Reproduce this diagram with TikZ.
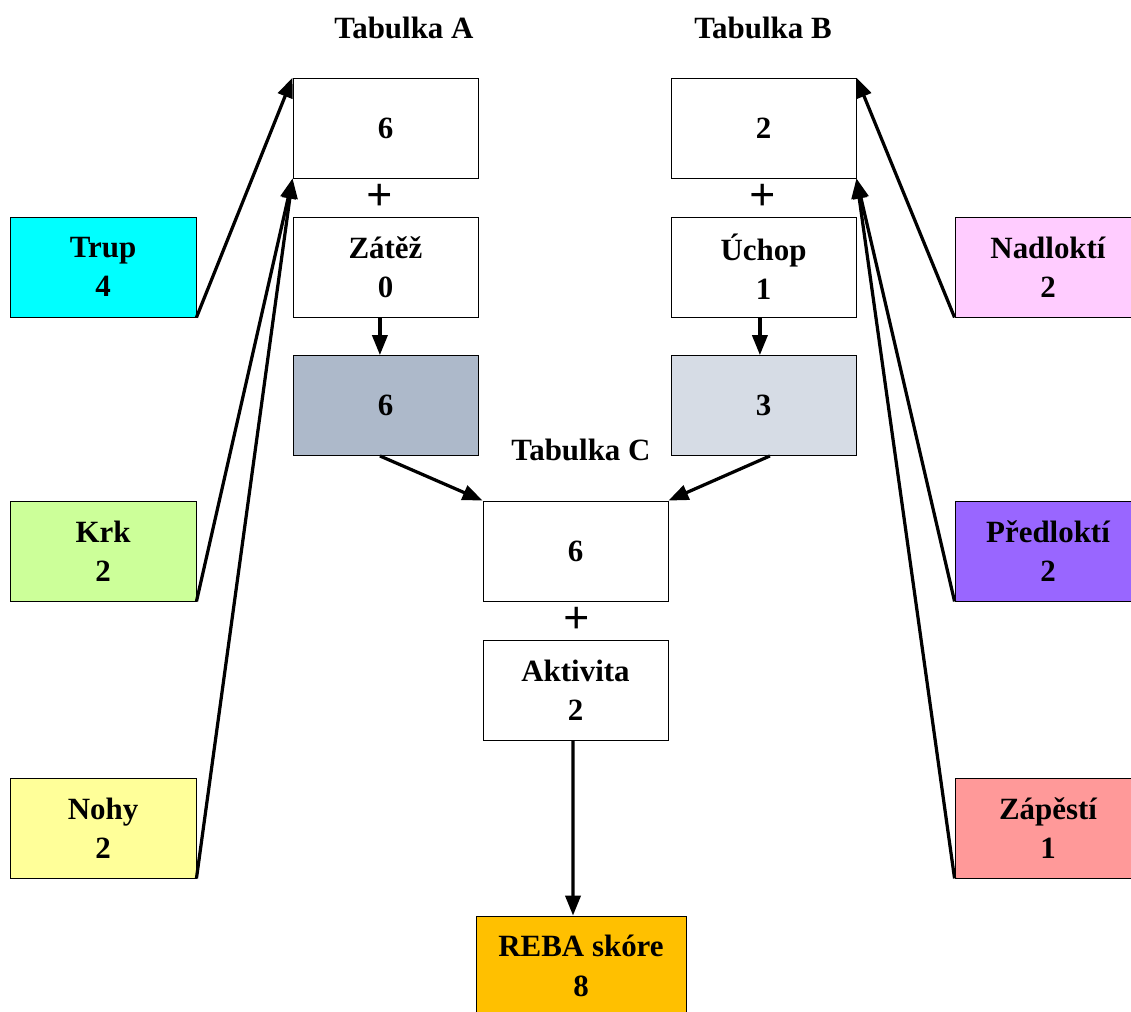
\documentclass[tikz,border=0pt]{standalone}
\usepackage{fontspec}
\setmainfont{Liberation Serif}
\usetikzlibrary{arrows.meta}

\definecolor{trupcol}{HTML}{00FFFF}
\definecolor{krkcol}{HTML}{CCFF99}
\definecolor{nohycol}{HTML}{FFFF99}
\definecolor{nadlcol}{HTML}{FFCCFF}
\definecolor{predlcol}{HTML}{9966FF}
\definecolor{zapcol}{HTML}{FF9999}
\definecolor{scoreA}{HTML}{ADB9CA}
\definecolor{scoreB}{HTML}{D6DCE5}
\definecolor{rebacol}{HTML}{FFC000}

\begin{document}
\begin{tikzpicture}[x=0.025cm, y=-0.025cm,
    every node/.style={font=\fontsize{22}{28}\selectfont\bfseries},
    box/.style={draw, line width=0.6pt, minimum width=4.625cm,
	minimum height=2.5cm, align=center, inner sep=0pt},
    plus/.style={font=\fontsize{33}{33}\selectfont\bfseries, inner sep=0pt},
    link/.style={line width=2.3pt, -{Triangle[length=0.5cm, width=0.38cm]}}]
    \useasboundingbox (0, 0) rectangle (1131, 1012);

    % Tabulka A
    \node at (404, 28) {Tabulka A};
    \node [box] (a) at (385.5, 128) {6};
    \node [plus] (plusa) at (380, 197) {+};
    \node [box] (zatez) at (385.5, 267) {Zátěž\\0};
    \node [box, fill=scoreA] (sa) at (385.5, 405.5) {6};

    % Tabulka B
    \node at (763, 28) {Tabulka B};
    \node [box] (b) at (763.5, 128) {2};
    \node [plus] (plusb) at (763, 197) {+};
    \node [box] (uchop) at (763.5, 267) {Úchop\\1};
    \node [box, fill=scoreB] (sb) at (763.5, 405.5) {3};

    % Tabulka C
    \node at (581, 450) {Tabulka C};
    \node [box] (c) at (575.5, 551) {6};
    \node [plus] (plusc) at (577, 620) {+};
    \node [box] (aktiv) at (575.5, 690) {Aktivita\\2};
    \node [box, minimum width=5.25cm, fill=rebacol] (reba) at (581, 966)
	{REBA skóre\\8};

    % left inputs
    \node [box, minimum width=4.65cm, fill=trupcol] (trup) at (103, 267) {Trup\\4};
    \node [box, minimum width=4.65cm, fill=krkcol] (krk) at (103, 551) {Krk\\2};
    \node [box, minimum width=4.65cm, fill=nohycol] (nohy) at (103, 828) {Nohy\\2};

    % right inputs
    \node [box, minimum width=4.65cm, fill=nadlcol] (nadl) at (1048, 267) {Nadloktí\\2};
    \node [box, minimum width=4.65cm, fill=predlcol] (predl) at (1048, 551) {Předloktí\\2};
    \node [box, minimum width=4.65cm, fill=zapcol] (zap) at (1048, 828) {Zápěstí\\1};

    \draw [link] (trup.south east) -- (a.north west);
    \draw [link] (krk.south east) -- (a.south west);
    \draw [link] (nohy.south east) -- (a.south west);
    \draw [link] (nadl.south west) -- (b.north east);
    \draw [link] (predl.south west) -- (b.south east);
    \draw [link] (zap.south west) -- (b.south east);

    \draw [link] ([xshift=-0.14cm]zatez.south) -- ([xshift=-0.14cm]sa.north);
    \draw [link] ([xshift=-0.09cm]uchop.south) -- ([xshift=-0.09cm]sb.north);
    \draw [link] ([xshift=-0.14cm]sa.south) -- (c.north west);
    \draw [link] ([xshift=0.16cm]sb.south) -- (c.north east);
    \draw [link] ([xshift=-0.06cm]aktiv.south) -- ([xshift=-0.2cm]reba.north);
\end{tikzpicture}
\end{document}
